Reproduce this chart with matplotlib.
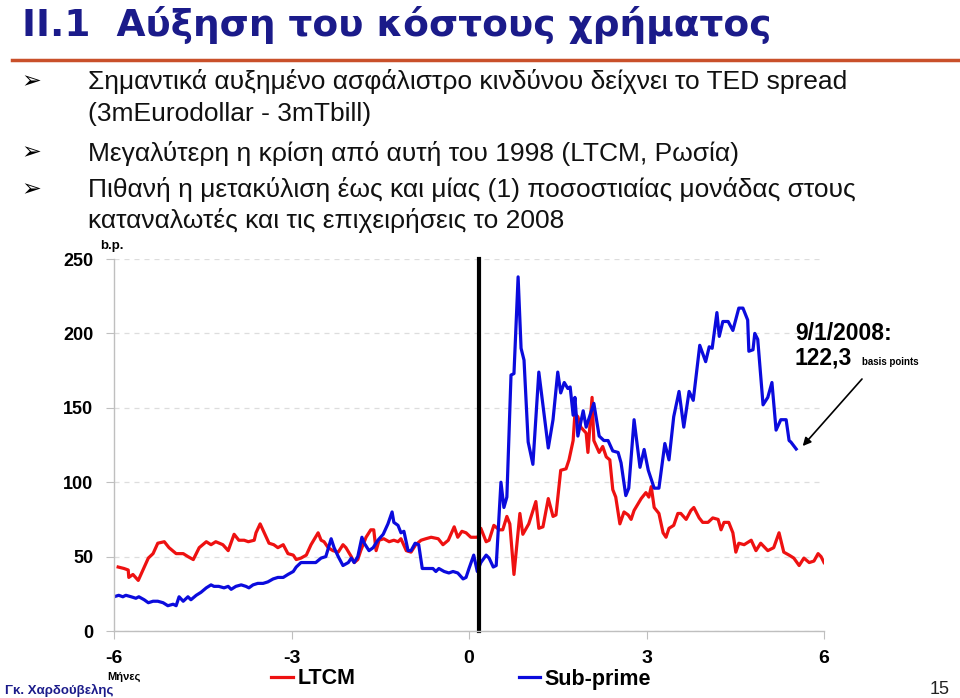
import matplotlib
matplotlib.use("Agg")
import matplotlib.pyplot as plt
from matplotlib.lines import Line2D

# TED spread γύρω από τις δύο κρίσεις (μήνες από την έναρξη, b.p.)
ltcm_x = [-5.93, -5.83, -5.76, -5.75, -5.68, -5.59, -5.51, -5.42, -5.34, -5.26,
          -5.15, -5.07, -4.95, -4.83, -4.75, -4.66, -4.56, -4.44, -4.36, -4.28,
          -4.16, -4.07, -3.97, -3.89, -3.80, -3.73, -3.63, -3.60, -3.53, -3.46,
          -3.38, -3.30, -3.23, -3.14, -3.06, -2.97, -2.92, -2.84, -2.75, -2.67,
          -2.55, -2.50, -2.45, -2.38, -2.30, -2.21, -2.13, -2.08, -1.99, -1.94,
          -1.88, -1.83, -1.74, -1.66, -1.61, -1.57, -1.52, -1.44, -1.35, -1.27,
          -1.20, -1.15, -1.06, -0.98, -0.90, -0.81, -0.73, -0.64, -0.52, -0.44,
          -0.35, -0.25, -0.19, -0.12, -0.05, 0.03, 0.15, 0.20, 0.29, 0.34,
          0.42, 0.51, 0.57, 0.64, 0.69, 0.76, 0.86, 0.91, 1.01, 1.13,
          1.18, 1.25, 1.34, 1.42, 1.47, 1.55, 1.64, 1.69, 1.76, 1.79,
          1.84, 1.89, 1.98, 2.01, 2.08, 2.11, 2.20, 2.26, 2.32, 2.38,
          2.43, 2.48, 2.55, 2.62, 2.69, 2.74, 2.79, 2.91, 2.99, 3.04,
          3.08, 3.13, 3.21, 3.28, 3.33, 3.38, 3.46, 3.53, 3.58, 3.67,
          3.75, 3.80, 3.89, 3.95, 4.04, 4.12, 4.21, 4.26, 4.31, 4.39,
          4.46, 4.51, 4.56, 4.65, 4.77, 4.85, 4.93, 5.05, 5.15, 5.24,
          5.32, 5.41, 5.49, 5.58, 5.66, 5.75, 5.83, 5.90, 5.95, 6.00]
ltcm_y = [43, 42, 41, 36, 38, 34, 41, 49, 52, 59,
          60, 56, 52, 52, 50, 48, 56, 60, 58, 60,
          58, 54, 65, 61, 61, 60, 61, 66, 72, 66,
          59, 58, 56, 58, 52, 51, 48, 49, 51, 58,
          66, 61, 60, 56, 54, 53, 58, 56, 50, 46,
          48, 54, 63, 68, 68, 54, 61, 62, 60, 61,
          60, 62, 54, 53, 58, 61, 62, 63, 62, 58,
          61, 70, 63, 67, 66, 63, 63, 69, 60, 61,
          71, 68, 68, 77, 72, 38, 79, 65, 72, 87,
          69, 70, 89, 77, 78, 108, 109, 115, 128, 146,
          144, 137, 133, 120, 157, 128, 120, 124, 117, 115,
          95, 90, 72, 80, 78, 75, 81, 89, 93, 90,
          97, 83, 79, 66, 63, 69, 71, 79, 79, 75,
          81, 83, 76, 73, 73, 76, 75, 68, 73, 73,
          66, 53, 59, 58, 61, 54, 59, 54, 56, 66,
          53, 51, 49, 44, 49, 46, 47, 52, 50, 46]

sub_x = [-6.00, -5.92, -5.85, -5.80, -5.71, -5.63, -5.58, -5.49, -5.42, -5.34,
         -5.26, -5.17, -5.09, -5.00, -4.95, -4.90, -4.83, -4.75, -4.70, -4.61,
         -4.53, -4.44, -4.36, -4.31, -4.23, -4.14, -4.07, -4.02, -3.94, -3.85,
         -3.77, -3.72, -3.65, -3.57, -3.48, -3.40, -3.31, -3.23, -3.14, -3.06,
         -2.97, -2.92, -2.84, -2.75, -2.67, -2.59, -2.50, -2.42, -2.33, -2.28,
         -2.21, -2.13, -2.04, -1.99, -1.94, -1.88, -1.81, -1.77, -1.69, -1.62,
         -1.54, -1.45, -1.37, -1.30, -1.27, -1.20, -1.15, -1.10, -1.03, -0.98,
         -0.91, -0.85, -0.79, -0.69, -0.61, -0.56, -0.51, -0.42, -0.34, -0.27,
         -0.19, -0.10, -0.05, 0.00, 0.08, 0.14, 0.20, 0.29, 0.34, 0.41,
         0.46, 0.54, 0.59, 0.64, 0.71, 0.76, 0.83, 0.88, 0.93, 1.00,
         1.08, 1.18, 1.34, 1.42, 1.50, 1.55, 1.61, 1.67, 1.71, 1.76,
         1.79, 1.84, 1.93, 1.98, 2.11, 2.20, 2.28, 2.35, 2.43, 2.52,
         2.57, 2.65, 2.70, 2.79, 2.89, 2.96, 3.03, 3.13, 3.21, 3.31,
         3.38, 3.46, 3.55, 3.63, 3.72, 3.79, 3.90, 4.00, 4.06, 4.11,
         4.19, 4.23, 4.29, 4.38, 4.46, 4.56, 4.63, 4.71, 4.73, 4.80,
         4.83, 4.88, 4.97, 5.05, 5.12, 5.19, 5.27, 5.36, 5.41, 5.44,
         5.53]
sub_y = [23, 24, 23, 24, 23, 22, 23, 21, 19, 20,
         20, 19, 17, 18, 17, 23, 20, 23, 21, 24,
         26, 29, 31, 30, 30, 29, 30, 28, 30, 31,
         30, 29, 31, 32, 32, 33, 35, 36, 36, 38,
         40, 43, 46, 46, 46, 46, 49, 50, 62, 56,
         50, 44, 46, 49, 46, 50, 63, 59, 54, 56,
         61, 65, 72, 80, 73, 71, 66, 67, 54, 54,
         59, 58, 42, 42, 42, 40, 42, 40, 39, 40,
         39, 35, 36, 42, 51, 40, 46, 51, 49, 43,
         44, 100, 83, 90, 172, 173, 238, 190, 182, 127,
         112, 174, 123, 142, 174, 160, 167, 163, 164, 145,
         157, 131, 148, 137, 153, 131, 128, 128, 121, 120,
         113, 91, 96, 142, 110, 122, 108, 96, 96, 126,
         115, 144, 161, 137, 161, 155, 192, 181, 191, 190,
         214, 198, 208, 208, 202, 217, 217, 209, 188, 189,
         200, 196, 152, 157, 167, 135, 142, 142, 128, 127,
         122.3]

event_x = 0.17
x_ticks = [-6, -3, 0, 3, 6]
y_ticks = [0, 50, 100, 150, 200, 250]

title = "II.1  Αύξηση του κόστους χρήματος"
bullets = [
    ("Σημαντικά αυξημένο ασφάλιστρο κινδύνου δείχνει το TED spread", True),
    ("(3mEurodollar - 3mTbill)", False),
    ("Μεγαλύτερη η κρίση από αυτή του 1998 (LTCM, Ρωσία)", True),
    ("Πιθανή η μετακύλιση έως και μίας (1) ποσοστιαίας μονάδας στους", True),
    ("καταναλωτές και τις επιχειρήσεις το 2008", False),
]
bullet_y = [82, 114, 153, 190, 221]

W, H = 960, 698
fig = plt.figure(figsize=(9.6, 6.98), dpi=100)
fig.patch.set_facecolor("white")


def fx(px):
    return px / W


def fy(py):
    return 1 - py / H


navy = "#1b1b8a"
fig.text(fx(22), fy(25), title, fontsize=27, fontweight="bold", color=navy,
         family="DejaVu Sans", va="center", ha="left")
fig.add_artist(Line2D([fx(12), fx(960)], [fy(60), fy(60)], color="#c9502a", lw=2.5))

for (txt, has_bullet), yy in zip(bullets, bullet_y):
    if has_bullet:
        fig.text(fx(21), fy(yy - 1), "➢", fontsize=17, family="DejaVu Sans",
                 va="center", ha="left", color="black")
    fig.text(fx(88), fy(yy), txt, fontsize=19, family="Liberation Sans",
             va="center", ha="left", color="#111111")

ax = fig.add_axes([fx(114), fy(631), fx(824) - fx(114), fy(259) - fy(631)])
ax.plot(ltcm_x, ltcm_y, color="#ee1111", lw=2.3, label="LTCM")
ax.plot(sub_x, sub_y, color="#0b0bdd", lw=2.3, label="Sub-prime")
ax.axvline(event_x, color="black", lw=3, clip_on=False)

ax.set_xlim(-6, 6)
ax.set_ylim(0, 250)
ax.set_xticks(x_ticks)
ax.set_yticks(y_ticks)
ax.set_xticklabels([str(t) for t in x_ticks], fontsize=14, fontweight="bold",
                   family="Liberation Sans")
ax.set_yticklabels([str(t) for t in y_ticks], fontsize=13, fontweight="bold",
                   family="Liberation Sans")
ax.tick_params(axis="x", length=6, color="#bfbfbf", pad=8)
ax.tick_params(axis="y", length=6, color="#bfbfbf", pad=9)
for s in ["top", "right"]:
    ax.spines[s].set_visible(False)
for s in ["left", "bottom"]:
    ax.spines[s].set_color("#bfbfbf")
    ax.spines[s].set_linewidth(1)
ax.yaxis.grid(True, color="#dddddd", ls=(0, (4, 4)), lw=0.9)
ax.set_axisbelow(True)

fig.text(fx(100), fy(246), "b.p.", fontsize=9.5, fontweight="bold",
         family="Liberation Sans", va="center", ha="left")
fig.text(fx(107), fy(677), "Μήνες", fontsize=8, fontweight="bold",
         family="Liberation Sans", va="center", ha="left")

leg = fig.legend(loc="center left", bbox_to_anchor=(fx(252), fy(679)), ncol=2,
                 frameon=False, handlelength=1.0, handletextpad=0.2,
                 columnspacing=7.6,
                 prop={"family": "Liberation Sans", "weight": "bold", "size": 15.5})

# σχόλιο για την τελευταία τιμή
fig.text(fx(795), fy(333), "9/1/2008:", fontsize=16.5, fontweight="bold",
         family="Liberation Sans", va="center", ha="left")
fig.text(fx(795), fy(358), "122,3", fontsize=16.5, fontweight="bold",
         family="Liberation Sans", va="center", ha="left")
fig.text(fx(862), fy(362), "basis points", fontsize=7, fontweight="bold",
         family="Liberation Sans", va="center", ha="left")
ax.annotate("", xy=(sub_x[-1] + 0.11, sub_y[-1] + 2), xycoords="data",
            xytext=(fx(862), fy(379)), textcoords="figure fraction",
            arrowprops=dict(arrowstyle="-|>", color="black", lw=1.2,
                            mutation_scale=12, shrinkA=0, shrinkB=0))

fig.text(fx(5), fy(690), "Γκ. Χαρδούβελης", fontsize=9.5, fontweight="bold",
         color=navy, family="Liberation Sans", va="center", ha="left")
fig.text(fx(950), fy(689), "15", fontsize=13, family="Liberation Sans",
         va="center", ha="right", color="#222222")

fig.savefig("out.png", dpi=100)
